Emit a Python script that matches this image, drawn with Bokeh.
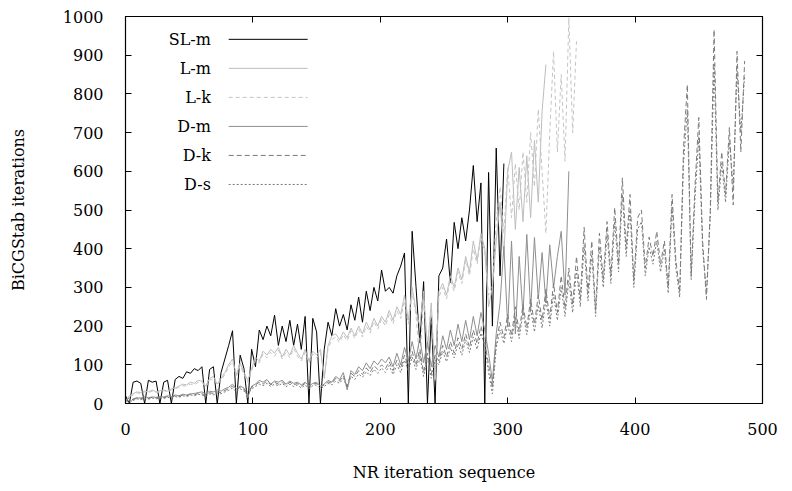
import numpy as np
from bokeh.plotting import figure
from bokeh.models import Range1d, FixedTicker, LinearAxis
from bokeh.core.properties import value
from bokeh.embed import file_html
from bokeh.resources import INLINE

STEP = 3  # iterations between stored samples

sl_m = [20, 0, 55, 58, 52, 0, 60, 55, 58, 0,
        55, 60, 0, 62, 70, 65, 82, 78, 90, 85,
        95, 0, 88, 95, 0, 80, 115, 150, 188, 0,
        125, 90, 0, 140, 95, 190, 165, 200, 175, 228,
        150, 200, 160, 215, 150, 205, 140, 225, 0, 220,
        185, 0, 140, 210, 175, 245, 200, 230, 190, 255,
        215, 275, 210, 290, 240, 300, 265, 345, 290, 300,
        285, 330, 355, 389, 0, 445, 303, 157, 315, 0,
        225, 0, 330, 350, 425, 312, 468, 400, 480, 420,
        500, 615, 470, 570, 0, 597, 200, 660, 330, 620]

l_m = [5, 20, 25, 30, 28, 32, 30, 35, 30, 33,
       35, 32, 38, 40, 45, 50, 48, 55, 52, 60,
       58, 45, 65, 70, 50, 65, 80, 100, 115, 75,
       105, 80, 60, 90, 120, 110, 135, 125, 140, 130,
       145, 120, 140, 125, 150, 130, 115, 140, 110, 135,
       125, 140, 65, 150, 175, 180, 165, 185, 170, 195,
       175, 200, 180, 210, 190, 220, 200, 225, 210, 240,
       215, 250, 230, 280, 215, 300, 240, 200, 290, 140,
       260, 60, 290, 310, 280, 330, 300, 350, 320, 380,
       340, 420, 370, 440, 400, 250, 300, 420, 520, 380,
       600, 650, 450, 610, 470, 640, 480, 680, 520, 755,
       876]

l_k = [5, 18, 22, 28, 25, 30, 28, 32, 28, 30,
       33, 30, 35, 38, 42, 46, 45, 50, 48, 55,
       55, 42, 60, 65, 48, 60, 75, 95, 108, 70,
       98, 75, 55, 85, 112, 105, 128, 118, 132, 122,
       138, 115, 132, 118, 142, 122, 110, 132, 105, 128,
       118, 132, 70, 142, 165, 172, 158, 178, 162, 188,
       168, 192, 172, 200, 182, 212, 192, 218, 200, 230,
       205, 240, 220, 265, 205, 285, 230, 105, 270, 150,
       250, 65, 275, 300, 270, 320, 290, 340, 310, 370,
       330, 400, 360, 430, 390, 280, 310, 470, 560, 440,
       610, 480, 620, 500, 650, 520, 700, 560, 760, 600,
       440, 700, 910, 650, 850, 626, 997, 700, 936]

d_m = [10, 0, 12, 15, 14, 18, 15, 17, 16, 18,
       17, 20, 18, 22, 20, 24, 22, 25, 26, 28,
       30, 25, 32, 30, 35, 32, 38, 42, 50, 38,
       45, 40, 15, 45, 50, 60, 55, 62, 50, 58,
       55, 60, 50, 58, 52, 55, 48, 55, 45, 52,
       55, 45, 50, 60, 55, 70, 62, 80, 35, 85,
       75, 95, 85, 105, 90, 110, 100, 115, 105, 120,
       95, 130, 100, 145, 110, 160, 115, 170, 105, 160,
       95, 150, 120, 175, 140, 190, 150, 205, 160, 215,
       165, 225, 175, 235, 190, 130, 57, 180, 260, 406,
       200, 420, 180, 380, 230, 437, 240, 429, 270, 390,
       260, 410, 300, 380, 445, 280, 600]

d_k = [8, 15, 10, 14, 12, 15, 13, 16, 14, 17,
       15, 18, 16, 20, 18, 22, 20, 24, 22, 26,
       25, 22, 28, 26, 30, 28, 34, 38, 45, 35,
       42, 36, 30, 42, 48, 55, 50, 58, 48, 55,
       50, 56, 47, 55, 48, 52, 45, 52, 42, 50,
       52, 42, 48, 56, 52, 65, 58, 72, 45, 78,
       70, 85, 75, 92, 80, 98, 88, 100, 90, 108,
       85, 112, 90, 125, 95, 135, 98, 140, 80, 130,
       75, 125, 110, 150, 120, 160, 130, 170, 140, 180,
       145, 190, 155, 200, 160, 100, 40, 160, 210, 170,
       230, 175, 250, 185, 255, 195, 270, 205, 280, 215,
       295, 220, 310, 235, 330, 245, 350, 255, 380, 270,
       455, 285, 420, 240, 440, 320, 470, 330, 506, 360,
       583, 400, 540, 316, 480, 500, 350, 430, 380, 445,
       360, 420, 300, 540, 370, 287, 660, 824, 330, 560,
       739, 420, 269, 500, 966, 520, 650, 540, 713, 513,
       910, 650, 885]

d_s = [5, 10, 8, 12, 10, 13, 11, 14, 12, 15,
       13, 16, 14, 18, 16, 20, 18, 22, 20, 24,
       22, 18, 25, 22, 27, 25, 30, 34, 40, 30,
       38, 32, 25, 38, 44, 50, 46, 52, 44, 50,
       46, 52, 43, 50, 44, 48, 40, 48, 38, 46,
       48, 38, 44, 52, 48, 58, 52, 65, 40, 70,
       62, 76, 68, 82, 72, 88, 78, 92, 80, 98,
       75, 100, 80, 112, 85, 120, 88, 125, 70, 118,
       65, 112, 100, 135, 108, 145, 118, 155, 125, 165,
       132, 172, 140, 182, 148, 80, 25, 145, 190, 155,
       205, 160, 225, 168, 235, 178, 245, 185, 255, 195,
       268, 200, 282, 215, 300, 225, 318, 235, 345, 250,
       410, 265, 385, 225, 405, 300, 440, 310, 470, 340,
       540, 380, 500, 300, 450, 470, 330, 405, 360, 420,
       340, 400, 285, 510, 350, 275, 620, 760, 320, 530,
       690, 400, 285, 480, 880, 500, 620, 520, 680, 560,
       860, 700, 850]

names = ["SL-m", "L-m", "L-k", "D-m", "D-k", "D-s"]
series = [sl_m, l_m, l_k, d_m, d_k, d_s]
colors = ["#000000", "#bdbdbd", "#c4c4c4", "#8e8e8e", "#7a7a7a", "#7a7a7a"]
dashes = ["solid", "solid", "4 3", "solid", "5 3", "2 2"]

x_ticks = [0, 100, 200, 300, 400, 500]
y_ticks = [0, 100, 200, 300, 400, 500, 600, 700, 800, 900, 1000]

FONT = "DejaVu Serif"

p = figure(width=782, height=489, x_range=Range1d(0, 500), y_range=Range1d(0, 1000),
           output_backend="svg", toolbar_location=None,
           min_border_left=125, min_border_right=20, min_border_top=16, min_border_bottom=86,
           x_axis_label="NR iteration sequence", y_axis_label="BiCGStab iterations")
p.grid.visible = False
p.outline_line_color = "black"
p.outline_line_width = 1.2
p.background_fill_color = "white"
p.border_fill_color = "white"

for ax in p.xaxis:
    ax.ticker = FixedTicker(ticks=x_ticks)
for ax in p.yaxis:
    ax.ticker = FixedTicker(ticks=y_ticks)

for ax in list(p.xaxis) + list(p.yaxis):
    ax.major_tick_in = 6
    ax.major_tick_out = 0
    ax.minor_tick_in = 0
    ax.minor_tick_out = 0
    ax.axis_line_color = "black"
    ax.major_tick_line_color = "black"
    ax.major_label_text_font = FONT
    ax.major_label_text_font_size = "16px"
    ax.major_label_text_color = "black"
    ax.axis_label_text_font = FONT
    ax.axis_label_text_font_size = "16px"
    ax.axis_label_text_font_style = "normal"
    ax.axis_label_text_color = "black"

p.yaxis.major_label_standoff = 22
p.yaxis.axis_label_standoff = 32
p.xaxis.major_label_standoff = 19
p.xaxis.axis_label_standoff = 25

# mirrored inward ticks on the right and top edges (no labels)
rax = LinearAxis(ticker=FixedTicker(ticks=y_ticks), major_tick_in=6, major_tick_out=0,
                 minor_tick_in=0, minor_tick_out=0, major_label_text_font_size="1px",
                 major_label_text_color=None, major_label_standoff=0, axis_line_color="black")
tax = LinearAxis(ticker=FixedTicker(ticks=x_ticks), major_tick_in=6, major_tick_out=0,
                 minor_tick_in=0, minor_tick_out=0, major_label_text_font_size="1px",
                 major_label_text_color=None, major_label_standoff=0, axis_line_color="black")
p.add_layout(rax, "right")
p.add_layout(tax, "above")

for ys, c, d in zip(series, colors, dashes):
    xs = np.arange(len(ys)) * STEP
    p.line(xs, ys, line_color=c, line_width=1, line_dash=d)

# gnuplot-style key: label on the left, sample on the right
key_text_x = 67
key_x0, key_x1 = 81, 143
key_y = [941, 866, 791, 716, 641, 566]
p.text(x=[key_text_x] * len(names), y=key_y, text=names, text_align="right",
       text_baseline="middle", text_font=value(FONT), text_font_size="16px",
       text_color="black")
for yk, c, d in zip(key_y, colors, dashes):
    p.line([key_x0, key_x1], [yk, yk], line_color=c, line_width=1, line_dash=d)

open("out.html", "w").write(file_html(p, INLINE))
